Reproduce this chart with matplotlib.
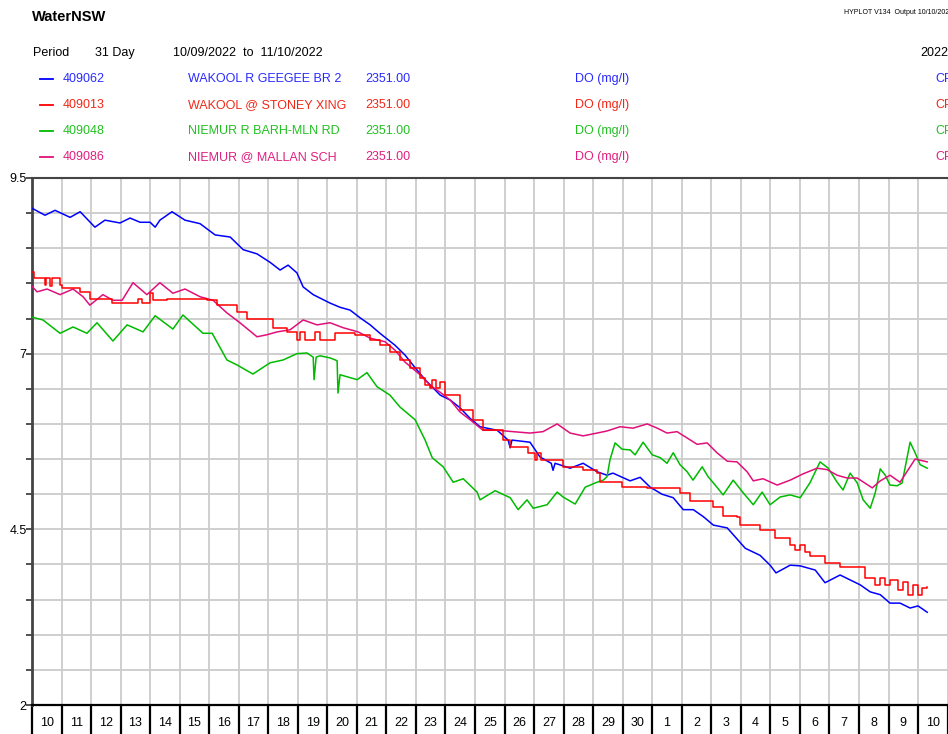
import matplotlib
matplotlib.use("Agg")
import matplotlib.pyplot as plt
from matplotlib.ticker import FixedLocator, NullFormatter, FixedFormatter

plt.rcParams['font.family'] = ['Liberation Sans', 'DejaVu Sans']

# days since 10/09/2022 00:00
blue_days = [0.00, 0.44, 0.78, 1.29, 1.63, 2.13, 2.47, 2.98, 3.32, 3.66,
             4.00, 4.17, 4.33, 4.74, 5.18, 5.69, 6.20, 6.71, 7.15, 7.62,
             8.06, 8.40, 8.67, 8.97, 9.18, 9.52, 10.09, 10.43, 10.77, 11.11,
             11.45, 11.78, 12.29, 12.63, 12.97, 13.31, 13.82, 14.16, 14.49, 14.83,
             15.17, 15.75, 16.12, 16.19, 16.25, 16.86, 17.20, 17.58, 17.64, 17.71,
             18.22, 18.66, 19.13, 19.47, 19.67, 20.25, 20.59, 20.93, 21.33, 21.71,
             22.05, 22.39, 22.73, 23.07, 23.54, 24.15, 24.65, 24.99, 25.19, 25.67,
             26.01, 26.52, 26.85, 27.36, 27.70, 28.04, 28.38, 28.72, 29.05, 29.39,
             29.73, 30.00, 30.31]
blue_do = [9.07, 8.97, 9.04, 8.94, 9.02, 8.80, 8.90, 8.86, 8.93, 8.87,
           8.87, 8.80, 8.90, 9.02, 8.90, 8.85, 8.69, 8.66, 8.48, 8.42,
           8.30, 8.19, 8.26, 8.15, 7.95, 7.84, 7.72, 7.66, 7.62, 7.51,
           7.41, 7.29, 7.12, 6.98, 6.80, 6.63, 6.41, 6.34, 6.23, 6.08,
           5.96, 5.91, 5.77, 5.66, 5.77, 5.74, 5.53, 5.44, 5.34, 5.44,
           5.37, 5.44, 5.32, 5.27, 5.30, 5.19, 5.24, 5.10, 5.00, 4.95,
           4.78, 4.78, 4.68, 4.56, 4.52, 4.23, 4.13, 3.99, 3.88, 3.99,
           3.98, 3.92, 3.74, 3.85, 3.78, 3.71, 3.61, 3.57, 3.45, 3.45,
           3.38, 3.41, 3.32]

red_days = [0.00, 0.07, 0.44, 0.47, 0.61, 0.68, 0.95, 1.02, 1.56, 1.63,
            1.90, 1.96, 2.71, 3.42, 3.59, 3.73, 4.00, 4.10, 4.57, 5.93,
            6.26, 6.94, 7.28, 8.16, 8.64, 8.97, 9.08, 9.24, 9.58, 9.75,
            10.26, 10.94, 11.45, 11.78, 12.12, 12.46, 12.80, 13.14, 13.31, 13.48,
            13.55, 13.68, 13.82, 13.99, 14.49, 14.93, 15.27, 15.92, 15.95, 16.19,
            16.76, 16.80, 17.03, 17.10, 17.24, 17.98, 18.66, 19.13, 19.23, 19.81,
            19.98, 20.83, 21.94, 22.28, 22.86, 23.06, 23.40, 23.87, 23.98, 24.65,
            25.16, 25.67, 25.84, 26.01, 26.18, 26.35, 26.85, 27.36, 28.04, 28.21,
            28.55, 28.72, 28.89, 29.05, 29.33, 29.50, 29.66, 29.83, 30.00, 30.14,
            30.31]
red_do = [8.16, 8.08, 7.98, 8.08, 7.96, 8.08, 7.98, 7.93, 7.93, 7.88,
          7.88, 7.78, 7.72, 7.72, 7.78, 7.72, 7.86, 7.76, 7.78, 7.76,
          7.69, 7.59, 7.49, 7.37, 7.31, 7.19, 7.31, 7.19, 7.31, 7.19,
          7.29, 7.27, 7.19, 7.12, 7.02, 6.91, 6.80, 6.65, 6.55, 6.51,
          6.63, 6.51, 6.59, 6.41, 6.20, 6.06, 5.91, 5.91, 5.77, 5.67,
          5.67, 5.59, 5.49, 5.59, 5.49, 5.39, 5.34, 5.30, 5.17, 5.17,
          5.10, 5.09, 5.02, 4.90, 4.90, 4.82, 4.69, 4.68, 4.56, 4.49,
          4.38, 4.28, 4.21, 4.28, 4.18, 4.12, 4.02, 3.96, 3.96, 3.81,
          3.71, 3.81, 3.71, 3.78, 3.64, 3.75, 3.57, 3.71, 3.57, 3.67,
          3.68]

green_days = [0.00, 0.37, 0.95, 1.39, 1.86, 2.20, 2.74, 3.22, 3.76, 4.17,
              4.77, 5.11, 5.79, 6.10, 6.60, 6.94, 7.48, 8.06, 8.50, 8.97,
              9.31, 9.52, 9.55, 9.62, 9.75, 10.09, 10.33, 10.36, 10.43, 11.01,
              11.34, 11.68, 12.12, 12.46, 12.97, 13.31, 13.55, 13.92, 14.26, 14.60,
              15.07, 15.17, 15.68, 16.19, 16.46, 16.76, 16.97, 17.44, 17.78, 17.98,
              18.39, 18.73, 19.13, 19.34, 19.47, 19.57, 19.74, 19.98, 20.25, 20.42,
              20.69, 21.00, 21.27, 21.50, 21.71, 21.94, 22.18, 22.38, 22.69, 22.89,
              23.19, 23.40, 23.74, 24.08, 24.42, 24.72, 24.99, 25.33, 25.67, 26.01,
              26.35, 26.68, 26.96, 27.26, 27.46, 27.70, 27.94, 28.14, 28.38, 28.55,
              28.72, 28.89, 29.05, 29.29, 29.46, 29.73, 29.90, 30.07, 30.31]
green_do = [7.52, 7.48, 7.29, 7.38, 7.29, 7.44, 7.18, 7.41, 7.31, 7.54,
            7.35, 7.55, 7.29, 7.29, 6.91, 6.84, 6.71, 6.87, 6.91, 7.00,
            7.01, 6.95, 6.63, 6.95, 6.97, 6.94, 6.90, 6.44, 6.70, 6.63,
            6.73, 6.53, 6.41, 6.24, 6.06, 5.77, 5.52, 5.39, 5.17, 5.22,
            5.03, 4.92, 5.05, 4.95, 4.78, 4.92, 4.80, 4.85, 5.03, 4.96,
            4.86, 5.10, 5.17, 5.20, 5.25, 5.49, 5.73, 5.64, 5.63, 5.56,
            5.74, 5.56, 5.52, 5.44, 5.59, 5.42, 5.32, 5.20, 5.39, 5.25,
            5.10, 4.99, 5.20, 5.02, 4.85, 5.03, 4.85, 4.96, 4.99, 4.95,
            5.17, 5.46, 5.37, 5.17, 5.06, 5.30, 5.16, 4.92, 4.80, 5.02,
            5.36, 5.27, 5.13, 5.12, 5.16, 5.74, 5.59, 5.42, 5.37]

pink_days = [0.00, 0.17, 0.51, 0.95, 1.39, 1.73, 1.96, 2.40, 2.74, 3.05,
             3.42, 3.89, 4.33, 4.77, 5.18, 5.69, 6.13, 6.60, 7.04, 7.62,
             7.96, 8.30, 8.74, 9.18, 9.65, 10.09, 10.53, 11.04, 11.45, 11.95,
             12.29, 12.63, 13.14, 13.48, 13.82, 14.16, 14.49, 14.83, 15.27, 15.75,
             16.29, 16.86, 17.30, 17.78, 18.22, 18.66, 19.13, 19.47, 19.91, 20.35,
             20.83, 21.17, 21.50, 21.84, 22.18, 22.52, 22.86, 23.19, 23.54, 23.87,
             24.21, 24.42, 24.75, 25.23, 25.67, 26.11, 26.58, 26.92, 27.26, 27.60,
             27.94, 28.45, 28.72, 29.05, 29.39, 29.73, 29.90, 30.31]
pink_do = [7.96, 7.88, 7.92, 7.84, 7.92, 7.81, 7.69, 7.84, 7.76, 7.76,
           8.01, 7.84, 8.01, 7.86, 7.92, 7.81, 7.76, 7.58, 7.44, 7.24,
           7.27, 7.31, 7.34, 7.48, 7.41, 7.44, 7.37, 7.31, 7.22, 7.17,
           7.05, 6.88, 6.70, 6.55, 6.45, 6.34, 6.17, 6.06, 5.91, 5.91,
           5.89, 5.87, 5.89, 6.00, 5.87, 5.83, 5.87, 5.90, 5.96, 5.94,
           6.00, 5.94, 5.87, 5.89, 5.80, 5.71, 5.73, 5.59, 5.47, 5.46,
           5.32, 5.19, 5.22, 5.13, 5.20, 5.29, 5.37, 5.35, 5.27, 5.23,
           5.23, 5.09, 5.19, 5.27, 5.17, 5.39, 5.50, 5.46]

day_labels = [str(d) for d in range(10, 31)] + [str(d) for d in range(1, 11)]

codes = ["409062", "409013", "409048", "409086"]
names = ["WAKOOL R GEEGEE BR 2", "WAKOOL @ STONEY XING",
         "NIEMUR R BARH-MLN RD", "NIEMUR @ MALLAN SCH"]
line_cols = ["#0000ff", "#ff0000", "#00bb00", "#e0107a"]
text_cols = ["#2a2aff", "#f02818", "#22c022", "#e0207f"]

W, H = 948, 734
fig = plt.figure(figsize=(W / 100, H / 100), dpi=100)
ax = fig.add_axes([32 / W, 1 - 705 / H, (947.6 - 32) / W, (705 - 178) / H])

ax.plot(blue_days, blue_do, color=line_cols[0], lw=1.1, zorder=3)
ax.plot(green_days, green_do, color=line_cols[2], lw=1.1, zorder=3)
ax.plot(pink_days, pink_do, color=line_cols[3], lw=1.1, zorder=3)
ax.plot(red_days, red_do, color=line_cols[1], lw=1.1, drawstyle="steps-post", zorder=4)

ax.set_xlim(0, 31)
ax.set_ylim(2, 9.5)

yt = [2 + 0.5 * i for i in range(16)]
ax.yaxis.set_major_locator(FixedLocator(yt))
ax.yaxis.set_major_formatter(FixedFormatter(
    [("%g" % v) if v in (2, 4.5, 7, 9.5) else "" for v in yt]))
ax.tick_params(axis="y", direction="out", length=4, width=1.2, color="#333333",
               labelsize=9, pad=0)

ax.xaxis.set_major_locator(FixedLocator(list(range(0, 32))))
ax.xaxis.set_major_formatter(NullFormatter())
ax.xaxis.set_minor_locator(FixedLocator([i + 0.5 for i in range(31)]))
ax.xaxis.set_minor_formatter(FixedFormatter(day_labels))
ax.tick_params(axis="x", which="major", direction="out", length=27, width=1.6, color="black")
ax.tick_params(axis="x", which="minor", length=0, labelsize=9, pad=9)

ax.grid(True, which="major", color="#cccccc", lw=1.3, zorder=0)
ax.set_axisbelow(True)

ax.spines["left"].set_color("#444444")
ax.spines["left"].set_linewidth(2)
ax.spines["top"].set_color("#444444")
ax.spines["top"].set_linewidth(1.5)
ax.spines["bottom"].set_color("black")
ax.spines["bottom"].set_linewidth(1.6)
ax.spines["right"].set_visible(False)


def px(x, y):
    return x / W, 1 - y / H


fig.text(*px(32, 17), "WaterNSW", fontsize=10.5, fontweight="bold", va="center")
fig.text(*px(844, 13), "HYPLOT V134  Output 10/10/2022", fontsize=5, va="center")
fig.text(*px(33, 53), "Period", fontsize=9, va="center")
fig.text(*px(95, 53), "31 Day", fontsize=9, va="center")
fig.text(*px(173, 53), "10/09/2022  to  11/10/2022", fontsize=9, va="center")
fig.text(*px(920, 53), "2022", fontsize=9, va="center")

for i in range(4):
    yy = 79 + 26 * i
    fig.add_artist(plt.Line2D([40 / W, 53 / W], [1 - yy / H, 1 - yy / H],
                              color=line_cols[i], lw=1.3))
    fig.text(*px(63, yy), codes[i], fontsize=9, color=text_cols[i], va="center")
    fig.text(*px(188, yy), names[i], fontsize=9, color=text_cols[i], va="center")
    fig.text(*px(365, yy), "2351.00", fontsize=9, color=text_cols[i], va="center")
    fig.text(*px(575, yy), "DO (mg/l)", fontsize=9, color=text_cols[i], va="center")
    fig.text(*px(935, yy), "CP", fontsize=9, color=text_cols[i], va="center")

fig.savefig("out.png", dpi=100)
